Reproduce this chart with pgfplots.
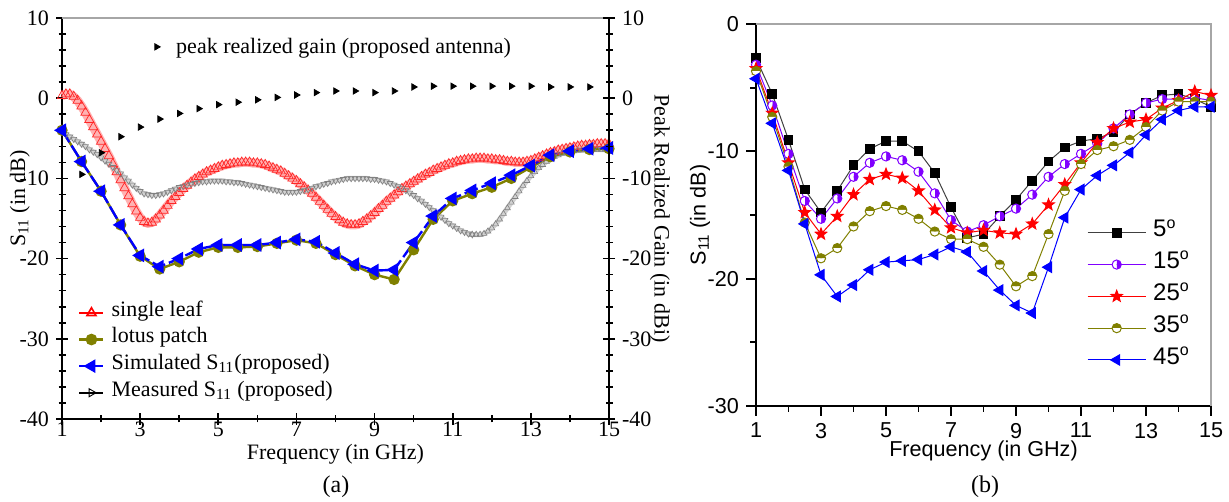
\documentclass[border=0pt]{standalone}
\usepackage{fontspec}
\setmainfont{Liberation Serif}
\newfontfamily\arial{Liberation Sans}
\usepackage{pgfplots}
\usepackage{pgfplotstable}
\pgfplotsset{compat=1.18}
\usetikzlibrary{plotmarks}
\definecolor{olv}{RGB}{128,128,0}
\definecolor{vio}{RGB}{128,0,255}
\pgfdeclareplotmark{hcirc}{%
  \pgfpathmoveto{\pgfqpoint{\pgfplotmarksize}{0pt}}%
  \pgfpatharc{0}{180}{\pgfplotmarksize}%
  \pgfpathclose\pgfusepathqfill
  \begin{pgfscope}\pgfsetfillcolor{white}%
  \pgfpathmoveto{\pgfqpoint{-\pgfplotmarksize}{0pt}}%
  \pgfpatharc{180}{360}{\pgfplotmarksize}%
  \pgfpathclose\pgfusepathqfill\end{pgfscope}%
  \pgfpathcircle{\pgfpointorigin}{\pgfplotmarksize}\pgfusepathqstroke}
\pgfdeclareplotmark{fstar}{%
  \pgfpathmoveto{\pgfpointpolar{90}{\pgfplotmarksize}}%
  \pgfpathlineto{\pgfpointpolar{126}{0.42\pgfplotmarksize}}%
  \pgfpathlineto{\pgfpointpolar{162}{\pgfplotmarksize}}%
  \pgfpathlineto{\pgfpointpolar{198}{0.42\pgfplotmarksize}}%
  \pgfpathlineto{\pgfpointpolar{234}{\pgfplotmarksize}}%
  \pgfpathlineto{\pgfpointpolar{270}{0.42\pgfplotmarksize}}%
  \pgfpathlineto{\pgfpointpolar{306}{\pgfplotmarksize}}%
  \pgfpathlineto{\pgfpointpolar{342}{0.42\pgfplotmarksize}}%
  \pgfpathlineto{\pgfpointpolar{18}{\pgfplotmarksize}}%
  \pgfpathlineto{\pgfpointpolar{54}{0.42\pgfplotmarksize}}%
  \pgfpathclose\pgfusepathqfillstroke}
% single leaf
\pgfplotstableread{
f v
1.0 0.3
1.1 0.5
1.2 0.5
1.3 0.2
1.4 -0.3
1.5 -1.0
1.6 -1.8
1.7 -2.7
1.8 -3.6
1.9 -4.5
2.0 -5.4
2.1 -6.3
2.2 -7.2
2.3 -8.2
2.4 -9.2
2.5 -10.2
2.6 -11.2
2.7 -12.2
2.8 -13.2
2.9 -14.1
3.0 -14.9
3.1 -15.4
3.2 -15.6
3.3 -15.5
3.4 -15.1
3.5 -14.6
3.6 -14.0
3.7 -13.4
3.8 -12.8
3.9 -12.3
4.0 -11.8
4.1 -11.3
4.2 -10.9
4.3 -10.5
4.4 -10.1
4.5 -9.8
4.6 -9.5
4.7 -9.2
4.8 -9.0
4.9 -8.8
5.0 -8.6
5.1 -8.4
5.2 -8.3
5.3 -8.2
5.4 -8.1
5.5 -8.1
5.6 -8.0
5.7 -8.0
5.8 -8.0
5.9 -8.1
6.0 -8.1
6.1 -8.2
6.2 -8.3
6.3 -8.5
6.4 -8.7
6.5 -8.9
6.6 -9.1
6.7 -9.4
6.8 -9.7
6.9 -10.0
7.0 -10.3
7.1 -10.7
7.2 -11.1
7.3 -11.5
7.4 -11.9
7.5 -12.4
7.6 -12.9
7.7 -13.4
7.8 -13.9
7.9 -14.4
8.0 -14.8
8.1 -15.2
8.2 -15.5
8.3 -15.7
8.4 -15.8
8.5 -15.8
8.6 -15.7
8.7 -15.4
8.8 -15.1
8.9 -14.7
9.0 -14.3
9.1 -13.8
9.2 -13.4
9.3 -12.9
9.4 -12.5
9.5 -12.1
9.6 -11.7
9.7 -11.3
9.8 -11.0
9.9 -10.7
10.0 -10.4
10.1 -10.1
10.2 -9.8
10.3 -9.5
10.4 -9.3
10.5 -9.0
10.6 -8.8
10.7 -8.6
10.8 -8.4
10.9 -8.2
11.0 -8.1
11.1 -7.9
11.2 -7.8
11.3 -7.7
11.4 -7.6
11.5 -7.6
11.6 -7.5
11.7 -7.5
11.8 -7.5
11.9 -7.6
12.0 -7.6
12.1 -7.7
12.2 -7.7
12.3 -7.8
12.4 -7.9
12.5 -7.9
12.6 -8.0
12.7 -8.0
12.8 -8.0
12.9 -7.9
13.0 -7.8
13.1 -7.6
13.2 -7.4
13.3 -7.2
13.4 -7.0
13.5 -6.8
13.6 -6.7
13.7 -6.5
13.8 -6.4
13.9 -6.3
14.0 -6.2
14.1 -6.1
14.2 -6.0
14.3 -5.9
14.4 -5.9
14.5 -5.8
14.6 -5.8
14.7 -5.7
14.8 -5.7
14.9 -5.7
15.0 -5.7
}\leaftab
% measured S11, part 1 and part 2
\pgfplotstableread{
f v
1.0 -4.2
1.1 -4.5
1.2 -4.8
1.3 -5.1
1.4 -5.4
1.5 -5.7
1.6 -6.0
1.7 -6.4
1.8 -6.7
1.9 -7.0
2.0 -7.4
2.1 -7.8
2.2 -8.2
2.3 -8.6
2.4 -9.0
2.5 -9.4
2.6 -9.9
2.7 -10.3
2.8 -10.8
2.9 -11.2
3.0 -11.6
3.1 -11.9
3.2 -12.0
3.3 -12.1
3.4 -12.1
3.5 -12.0
3.6 -11.9
3.7 -11.7
3.8 -11.5
3.9 -11.3
4.0 -11.1
4.1 -11.0
4.2 -10.8
4.3 -10.7
4.4 -10.6
4.5 -10.5
4.6 -10.4
4.7 -10.4
4.8 -10.3
4.9 -10.3
5.0 -10.3
5.1 -10.3
5.2 -10.4
5.3 -10.4
5.4 -10.5
5.5 -10.5
5.6 -10.6
5.7 -10.7
5.8 -10.8
5.9 -10.9
6.0 -11.0
6.1 -11.1
6.2 -11.2
6.3 -11.3
6.4 -11.4
6.5 -11.5
6.6 -11.6
6.7 -11.7
6.8 -11.7
6.9 -11.7
7.0 -11.7
7.1 -11.6
7.2 -11.5
7.3 -11.4
7.4 -11.2
7.5 -11.0
7.6 -10.9
7.7 -10.7
7.8 -10.6
7.9 -10.4
8.0 -10.3
8.1 -10.2
8.2 -10.1
8.3 -10.0
8.4 -10.0
8.5 -10.0
8.6 -10.0
8.7 -10.0
8.8 -10.0
8.9 -10.1
9.0 -10.1
9.1 -10.2
9.2 -10.3
9.3 -10.4
9.4 -10.6
9.5 -10.8
9.6 -11.0
9.7 -11.2
9.8 -11.5
9.9 -11.8
10.0 -12.1
10.1 -12.5
10.2 -12.8
10.3 -13.2
10.4 -13.6
10.5 -14.0
10.6 -14.4
10.7 -14.8
10.8 -15.2
10.9 -15.6
11.0 -15.9
11.1 -16.2
11.2 -16.5
11.3 -16.7
11.4 -16.9
11.5 -17.0
}\measA
\pgfplotstableread{
f v
11.5 -17.0
11.6 -17.0
11.7 -17.0
11.8 -16.9
11.9 -16.6
12.0 -16.2
12.1 -15.7
12.2 -15.1
12.3 -14.4
12.4 -13.7
12.5 -13.0
12.6 -12.3
12.7 -11.6
12.8 -10.9
12.9 -10.3
13.0 -9.7
13.1 -9.2
13.2 -8.7
13.3 -8.3
13.4 -7.9
13.5 -7.6
13.6 -7.3
13.7 -7.1
13.8 -6.9
13.9 -6.8
14.0 -6.7
14.1 -6.6
14.2 -6.5
14.3 -6.5
14.4 -6.4
14.5 -6.4
14.6 -6.4
14.7 -6.4
14.8 -6.4
14.9 -6.4
15.0 -6.4
}\measB
\begin{document}
\begin{tikzpicture}
\path[use as bounding box] (0pt,0pt) rectangle (614.5pt,251pt);
% ---------------- panel (a), left axis ----------------
\begin{axis}[
  at={(31pt,41.5pt)}, anchor=south west, scale only axis,
  width=273.5pt, height=200.5pt,
  xmin=1, xmax=15, ymin=-40, ymax=10, clip=false,
  axis x line*=bottom, axis y line*=left,
  axis line style={line width=1pt,-},
  xtick={1,3,...,15}, minor xtick={2,4,...,14},
  ytick={-40,-30,...,10}, minor ytick={-38,-36,...,8},
  tick align=center, major tick length=6pt, minor tick length=3.5pt,
  every tick/.style={black, line width=0.8pt},
  /pgf/number format/assume math mode=true,
  tick label style={font=\fontsize{11}{12}\selectfont},
  xticklabel style={yshift=5pt},
  label style={font=\fontsize{11}{12}\selectfont},
  xlabel={Frequency (in GHz)},
  xlabel style={at={(axis description cs:0.5,-0.088)}, anchor=center},
  ylabel={S\textsubscript{11} (in dB)},
  ylabel style={at={(axis description cs:-0.077,0.55)}, anchor=center},
  legend style={draw=none, fill=none, at={(0.029,0.165)}, anchor=west,
    font=\fontsize{11}{12}\selectfont, inner sep=0pt, column sep=3.5pt,
    nodes={inner sep=0pt, text height=8.3pt, text depth=5pt}},
  legend cell align=left,
  legend image code/.code={\draw[mark repeat=2,mark phase=2,#1] plot coordinates {(0pt,0pt) (6pt,0pt) (12pt,0pt)};},
]
\draw[gray!70, line width=0.6pt] (rel axis cs:0,1) -- (rel axis cs:1,1);
\addplot[red!30, line width=4.5pt, forget plot] table[x=f, y=v] {\leaftab};
\addplot[only marks, red!85, mark=triangle, mark size=2.7pt, mark options={line width=0.35pt}, forget plot] table[x=f, y=v] {\leaftab};
\addplot[gray!35, line width=2.5pt, forget plot] table[x=f, y=v] {\measA};
\addplot[gray!35, line width=2.5pt, forget plot] table[x=f, y=v] {\measB};
\addplot[only marks, gray, mark=triangle, mark size=1.7pt, mark options={line width=0.3pt, rotate=180}, forget plot] table[x=f, y=v] {\measA};
\addplot[only marks, gray, mark=triangle, mark size=1.7pt, mark options={line width=0.3pt}, forget plot] table[x=f, y=v] {\measB};
\addplot[olv, line width=1.2pt, mark=*, mark size=2.2pt, forget plot] coordinates {
(1,-4.0)(1.5,-7.9)(2,-11.6)(2.5,-15.8)(3,-19.7)(3.5,-21.3)(4,-20.4)(4.5,-19.2)(5,-18.6)(5.5,-18.6)(6,-18.5)(6.5,-18.1)(7,-17.7)(7.5,-18.1)(8,-19.5)(8.5,-20.9)(9,-22.0)(9.5,-22.6)(10,-18.9)(10.5,-15.1)(11,-12.8)(11.5,-11.9)(12,-11.1)(12.5,-10.0)(13,-8.6)(13.5,-7.3)(14,-6.7)(14.5,-6.4)(15,-6.3)};
\addplot[blue, line width=1.2pt, dash pattern=on 7pt off 2pt, mark=triangle*, mark size=2.8pt, mark options={solid, rotate=90}, forget plot] coordinates {
(1,-4.0)(1.5,-7.9)(2,-11.6)(2.5,-15.8)(3,-19.6)(3.5,-21.0)(4,-20.0)(4.5,-18.8)(5,-18.3)(5.5,-18.3)(6,-18.3)(6.5,-18.0)(7,-17.6)(7.5,-17.9)(8,-19.3)(8.5,-20.7)(9,-21.5)(9.5,-21.4)(10,-18.0)(10.5,-14.7)(11,-12.5)(11.5,-11.5)(12,-10.6)(12.5,-9.6)(13,-8.4)(13.5,-7.1)(14,-6.6)(14.5,-6.3)(15,-6.2)};
\addlegendimage{red, line width=0.8pt, mark=triangle, mark size=2.6pt, mark options={fill=white}}
\addlegendentry{single leaf}
\addlegendimage{olv, line width=1.2pt, mark=*, mark size=2.3pt}
\addlegendentry{lotus patch}
\addlegendimage{blue, line width=1.2pt, mark=triangle*, mark size=2.8pt, mark options={rotate=90}}
\addlegendentry{Simulated S\textsubscript{11}(proposed)}
\addlegendimage{black, line width=0.8pt, mark=triangle, mark size=2.3pt, mark options={rotate=-90, fill=white, line width=0.45pt}}
\addlegendentry{Measured S\textsubscript{11} (proposed)}
\end{axis}
% ---------------- panel (a), right axis ----------------
\begin{axis}[
  at={(31pt,41.5pt)}, anchor=south west, scale only axis,
  width=273.5pt, height=200.5pt,
  xmin=1, xmax=15, ymin=-40, ymax=10, clip=false,
  axis x line=none, axis y line*=right,
  axis line style={line width=1pt,-},
  ytick={-40,-30,...,10}, minor ytick={-38,-36,...,8},
  tick align=center, major tick length=6pt, minor tick length=3.5pt,
  every tick/.style={black, line width=0.8pt},
  /pgf/number format/assume math mode=true,
  tick label style={font=\fontsize{11}{12}\selectfont},
  label style={font=\fontsize{11}{12}\selectfont},
  ylabel={Peak Realized Gain (in dBi)},
  ylabel style={at={(axis description cs:1.093,0.5)}, anchor=center, rotate=180},
  legend style={draw=none, fill=none, at={(0.169,0.928)}, anchor=west,
    font=\fontsize{11}{12}\selectfont, inner sep=0pt, column sep=6pt},
]
\addplot[only marks, black, mark=triangle*, mark size=1.8pt, mark options={rotate=-90}] coordinates {
(1.5,-9.5)(2,-6.8)(2.5,-4.8)(3,-3.6)(3.5,-2.6)(4,-1.9)(4.5,-1.3)(5,-0.8)(5.5,-0.5)(6,-0.2)(6.5,0.1)(7,0.4)(7.5,0.7)(8,0.9)(8.5,0.9)(9,0.7)(9.5,0.9)(10,1.4)(10.5,1.5)(11,1.5)(11.5,1.5)(12,1.5)(12.5,1.5)(13,1.5)(13.5,1.4)(14,1.4)(14.5,1.4)};
\addlegendentry{peak realized gain (proposed antenna)}
\end{axis}
% ---------------- panel (b) ----------------
\begin{axis}[
  at={(378pt,48pt)}, anchor=south west, scale only axis,
  width=227.5pt, height=191pt,
  xmin=1, xmax=15, ymin=-30, ymax=0, clip=false,
  axis x line*=bottom, axis y line*=left,
  axis line style={line width=1.2pt,-},
  xtick={1,3,...,15}, minor xtick={2,4,...,14},
  ytick={-30,-20,-10,0}, minor ytick={-25,-15,-5},
  tick align=outside, major tick length=5pt, minor tick length=3pt,
  every tick/.style={black, line width=0.9pt},
  /pgf/number format/assume math mode=true,
  tick label style={font=\arial\fontsize{10.8}{12}\selectfont},
  label style={font=\arial\fontsize{10.8}{12}\selectfont},
  xlabel={Frequency (in GHz)},
  xlabel style={at={(axis description cs:0.5,-0.118)}, anchor=center},
  ylabel={S\textsubscript{11} (in dB)},
  ylabel style={at={(axis description cs:-0.123,0.5)}, anchor=center},
  legend style={draw=none, fill=none, at={(0.727,0.287)}, anchor=west,
    font=\arial\fontsize{12}{13}\selectfont, inner sep=0pt, column sep=3.5pt,
    nodes={inner sep=0pt, text height=10pt, text depth=5.9pt}},
  legend cell align=left,
  legend image code/.code={\draw[mark repeat=2,mark phase=2,#1] plot coordinates {(0pt,0pt) (14.5pt,0pt) (29pt,0pt)};},
]
\draw[gray!70, line width=0.6pt] (rel axis cs:0,1) -- (rel axis cs:1,1) -- (rel axis cs:1,0);
\addplot[black!75, line width=0.5pt, mark=square*, mark size=2.2pt, mark options={black}] coordinates {
(1,-2.7)(1.5,-5.5)(2,-9.1)(2.5,-13.0)(3,-14.8)(3.5,-13.1)(4,-11.1)(4.5,-9.8)(5,-9.2)(5.5,-9.2)(6,-10.0)(6.5,-11.7)(7,-14.4)(7.5,-16.8)(8,-16.5)(8.5,-15.1)(9,-13.8)(9.5,-12.3)(10,-10.8)(10.5,-9.7)(11,-9.2)(11.5,-9.0)(12,-8.5)(12.5,-7.1)(13,-6.2)(13.5,-5.6)(14,-5.5)(14.5,-5.9)(15,-6.5)};
\addlegendentry{5\textsuperscript{o}}
\addplot[vio, line width=0.5pt, mark=hcirc, mark size=2.3pt, mark options={rotate=-90, fill=vio, draw=vio}] coordinates {
(1,-3.2)(1.5,-6.4)(2,-10.2)(2.5,-13.9)(3,-15.3)(3.5,-13.7)(4,-12.0)(4.5,-10.9)(5,-10.4)(5.5,-10.7)(6,-11.6)(6.5,-13.3)(7,-15.4)(7.5,-16.3)(8,-15.8)(8.5,-15.1)(9,-14.5)(9.5,-13.4)(10,-12.0)(10.5,-11.0)(11,-10.2)(11.5,-9.4)(12,-8.2)(12.5,-7.1)(13,-6.2)(13.5,-5.9)(14,-5.9)(14.5,-5.8)(15,-6.0)};
\addlegendentry{15\textsuperscript{o}}
\addplot[red, line width=0.5pt, mark=fstar, mark size=3pt, mark options={fill=red, draw=red}] coordinates {
(1,-3.5)(1.5,-7.0)(2,-10.9)(2.5,-14.8)(3,-16.5)(3.5,-15.1)(4,-13.4)(4.5,-12.2)(5,-11.8)(5.5,-12.1)(6,-13.1)(6.5,-14.6)(7,-16.0)(7.5,-16.4)(8,-16.2)(8.5,-16.4)(9,-16.5)(9.5,-15.7)(10,-14.2)(10.5,-12.6)(11,-10.9)(11.5,-9.3)(12,-8.2)(12.5,-7.7)(13,-7.5)(13.5,-6.6)(14,-6.0)(14.5,-5.3)(15,-5.6)};
\addlegendentry{25\textsuperscript{o}}
\addplot[olv, line width=0.5pt, mark=hcirc, mark size=2.3pt, mark options={fill=olv, draw=olv}] coordinates {
(1,-3.7)(1.5,-7.3)(2,-11.2)(2.5,-15.6)(3,-18.4)(3.5,-17.6)(4,-15.9)(4.5,-14.7)(5,-14.3)(5.5,-14.6)(6,-15.3)(6.5,-16.3)(7,-16.9)(7.5,-16.9)(8,-17.5)(8.5,-18.9)(9,-20.6)(9.5,-19.8)(10,-16.5)(10.5,-13.1)(11,-11.0)(11.5,-9.9)(12,-9.6)(12.5,-9.1)(13,-8.1)(13.5,-6.8)(14,-6.1)(14.5,-6.1)(15,-6.1)};
\addlegendentry{35\textsuperscript{o}}
\addplot[blue, line width=0.5pt, mark=triangle*, mark size=3pt, mark options={rotate=90, fill=blue, draw=blue}] coordinates {
(1,-4.3)(1.5,-7.8)(2,-11.5)(2.5,-15.7)(3,-19.7)(3.5,-21.4)(4,-20.5)(4.5,-19.3)(5,-18.7)(5.5,-18.6)(6,-18.5)(6.5,-18.1)(7,-17.5)(7.5,-17.9)(8,-19.4)(8.5,-20.9)(9,-22.1)(9.5,-22.7)(10,-19.1)(10.5,-15.2)(11,-13.0)(11.5,-11.9)(12,-11.1)(12.5,-10.1)(13,-8.7)(13.5,-7.5)(14,-6.8)(14.5,-6.5)(15,-6.5)};
\addlegendentry{45\textsuperscript{o}}
\end{axis}
\node[font=\fontsize{12}{14}\selectfont] at (168pt,7.5pt) {(a)};
\node[font=\fontsize{12}{14}\selectfont] at (492.5pt,7.5pt) {(b)};
\end{tikzpicture}
\end{document}
